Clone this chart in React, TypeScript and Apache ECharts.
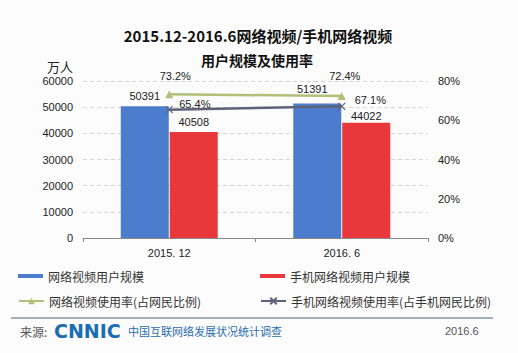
import React, { useEffect, useRef } from "react";
import * as echarts from "echarts";

const categories = ["2015. 12", "2016. 6"];
const videoUsers = [50391, 51391];
const mobileVideoUsers = [40508, 44022];
const videoRate = [73.2, 72.4];
const mobileVideoRate = [65.4, 67.1];

const seriesNames = [
  "网络视频用户规模",
  "手机网络视频用户规模",
  "网络视频使用率(占网民比例)",
  "手机网络视频使用率(占手机网民比例)",
];

const BLUE = "#4b7dcc";
const RED = "#e8383b";
const GREEN = "#b1bf78";
const GRAY = "#5d6278";

export default function App() {
  const ref = useRef<HTMLDivElement>(null);
  useEffect(() => {
    if (!ref.current) return;
    const chart = echarts.init(ref.current, null, { renderer: "svg" });
    const font = "Arial, 'Liberation Sans', 'Noto Sans CJK SC', sans-serif";
    const cjk = "'Noto Sans CJK SC', sans-serif";
    const legendBase = {
      orient: "horizontal",
      padding: 0,
      itemWidth: 25,
      textStyle: { fontFamily: cjk, fontSize: 12, color: "#333" },
      selectedMode: false,
    };
    chart.setOption({
      animation: false,
      backgroundColor: "#fcfcfc",
      textStyle: { fontFamily: font },
      title: [
        {
          text: "2015.12-2016.6网络视频/手机网络视频",
          left: 253,
          textAlign: "center",
          top: 23,
          textStyle: { fontSize: 15, fontWeight: "bold", color: "#111", fontFamily: cjk },
        },
        {
          text: "用户规模及使用率",
          left: 252,
          textAlign: "center",
          top: 48,
          textStyle: { fontSize: 14, fontWeight: "bold", color: "#111", fontFamily: cjk },
        },
      ],
      grid: { left: 83, right: 90, top: 81, bottom: 115, containLabel: false },
      legend: [
        { ...legendBase, data: [seriesNames[0]], left: 18, top: 270, itemHeight: 4, icon: "rect" },
        { ...legendBase, data: [seriesNames[1]], left: 260, top: 270, itemHeight: 4, icon: "rect" },
        { ...legendBase, data: [seriesNames[2]], left: 18, top: 295, itemHeight: 8 },
        { ...legendBase, data: [seriesNames[3]], left: 260, top: 295, itemHeight: 8 },
      ],
      xAxis: {
        type: "category",
        data: categories,
        axisLine: { lineStyle: { color: "#888", width: 1 } },
        axisTick: { show: true, length: 4, lineStyle: { color: "#888" } },
        axisLabel: { fontSize: 11, color: "#222", margin: 9 },
      },
      yAxis: [
        {
          type: "value",
          min: 0,
          max: 60000,
          interval: 10000,
          name: "万人",
          nameLocation: "end",
          nameGap: 8,
          nameTextStyle: { fontSize: 13, color: "#222", fontFamily: cjk, align: "right", padding: [0, 10, 0, 0] },
          axisLine: { show: false },
          axisTick: { show: false },
          axisLabel: { fontSize: 11, color: "#222", margin: 10, formatter: (v: number) => String(v) },
          splitLine: { lineStyle: { color: "#d4d4d4", type: [4, 3] } },
        },
        {
          type: "value",
          min: 0,
          max: 80,
          interval: 20,
          axisLine: { show: false },
          axisTick: { show: false },
          axisLabel: { fontSize: 11, color: "#222", margin: 10, formatter: "{value}%" },
          splitLine: { show: false },
        },
      ],
      series: [
        {
          name: seriesNames[0],
          type: "bar",
          barWidth: 48,
          barGap: "2%",
          itemStyle: { color: BLUE },
          label: { show: true, position: "top", fontSize: 11, color: "#222" },
          data: videoUsers.map((v, i) =>
            i === 1 ? { value: v, label: { offset: [-5, -4] } } : v
          ),
        },
        {
          name: seriesNames[1],
          type: "bar",
          barWidth: 48,
          itemStyle: { color: RED },
          label: { show: true, position: "top", fontSize: 11, color: "#222" },
          data: mobileVideoUsers.map((v, i) =>
            i === 1 ? { value: v, label: { offset: [0, 4] } } : v
          ),
        },
        {
          name: seriesNames[2],
          type: "line",
          yAxisIndex: 1,
          symbol: "triangle",
          symbolSize: 8,
          lineStyle: { color: GREEN, width: 2.5 },
          itemStyle: { color: GREEN },
          label: {
            show: true,
            position: "top",
            fontSize: 11,
            color: "#222",
            formatter: (p: any) => p.value.toFixed(1) + "%",
          },
          data: videoRate.map((v, i) => ({ value: v, label: { offset: i === 0 ? [6, -4] : [3, -5] } })),
          z: 5,
        },
        {
          name: seriesNames[3],
          type: "line",
          yAxisIndex: 1,
          symbol: "path://M0,0L10,10M10,0L0,10",
          symbolSize: 7,
          lineStyle: { color: GRAY, width: 2.5 },
          itemStyle: { color: "none", borderColor: GRAY, borderWidth: 1.2 },
          label: {
            show: true,
            position: "right",
            distance: 4,
            fontSize: 11,
            color: "#222",
            formatter: (p: any) => p.value.toFixed(1) + "%",
          },
          data: mobileVideoRate.map((v, i) => ({ value: v, label: { offset: i === 0 ? [0, -6] : [3, -6] } })),
          z: 5,
        },
      ],
      graphic: [
        {
          type: "line",
          shape: { x1: 11, y1: 318, x2: 493, y2: 318 },
          style: { stroke: "#8498aa", lineWidth: 1.5 },
        },
        {
          type: "text",
          x: 20,
          y: 331,
          style: { text: "来源:", fontSize: 12, fill: "#555", fontFamily: cjk, verticalAlign: "middle" },
        },
        {
          type: "text",
          x: 54,
          y: 331,
          style: {
            text: "CNNIC",
            fontSize: 19,
            fontWeight: 900,
            fill: "#1a6db5",
            fontFamily: "'DejaVu Sans', Arial, sans-serif",
            verticalAlign: "middle",
          },
        },
        {
          type: "text",
          x: 128,
          y: 331,
          style: {
            text: "中国互联网络发展状况统计调查",
            fontSize: 11,
            fill: "#2a6eb0",
            fontFamily: cjk,
            verticalAlign: "middle",
          },
        },
        {
          type: "text",
          x: 445,
          y: 331,
          style: { text: "2016.6", fontSize: 11, fill: "#555", fontFamily: font, verticalAlign: "middle" },
        },
      ],
    });
    return () => chart.dispose();
  }, []);
  return (
    <div
      ref={ref}
      style={{ position: "absolute", left: 0, top: 0, width: 518, height: 353 }}
    />
  );
}
